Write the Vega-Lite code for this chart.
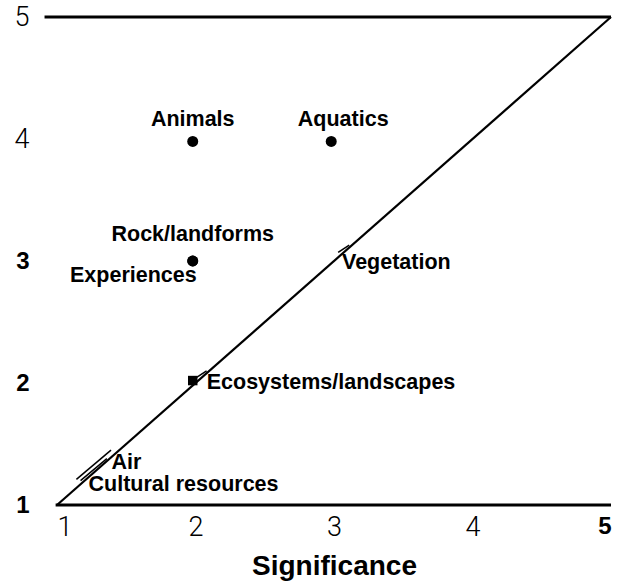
{
  "$schema": "https://vega.github.io/schema/vega-lite/v6.json",
  "autosize": {"type": "none"},
  "width": 554,
  "height": 488,
  "padding": {"left": 57, "top": 17, "right": 17, "bottom": 77},
  "background": "white",
  "config": {"view": {"stroke": null}},
  "datasets": {
    "frame": [
      {"x": 0.91, "y": 5, "x2": 5, "y2": 5},
      {"x": 0.99, "y": 1, "x2": 5, "y2": 1}
    ],
    "diag": [
      {"x": 1, "y": 1, "x2": 5, "y2": 5}
    ],
    "ticks": [
      {"x": 3.03, "y": 3.07, "x2": 3.11, "y2": 3.13},
      {"x": 2.0, "y": 2.04, "x2": 2.08, "y2": 2.1},
      {"x": 1.14, "y": 1.21, "x2": 1.39, "y2": 1.45},
      {"x": 1.17, "y": 1.2, "x2": 1.36, "y2": 1.38}
    ],
    "items": [
      {"name": "Animals", "sig": 1.98, "val": 3.98, "marker": "circle"},
      {"name": "Aquatics", "sig": 2.98, "val": 3.98, "marker": "circle"},
      {"name": "Rock/landforms", "sig": 1.98, "val": 3, "marker": "circle"},
      {"name": "Experiences", "sig": 1.98, "val": 3, "marker": "circle"},
      {"name": "Vegetation", "sig": 3, "val": 3, "marker": "none"},
      {"name": "Ecosystems/landscapes", "sig": 1.98, "val": 2.02, "marker": "square"},
      {"name": "Air", "sig": 1.3, "val": 1.3, "marker": "none"},
      {"name": "Cultural resources", "sig": 1.3, "val": 1.3, "marker": "none"}
    ]
  },
  "layer": [
    {
      "data": {"name": "frame"},
      "mark": {"type": "rule", "color": "black", "strokeWidth": 3},
      "encoding": {
        "x": {"field": "x", "type": "quantitative", "scale": {"domain": [1, 5], "nice": false, "zero": false},
          "axis": {"title": "Significance", "values": [1, 2, 3, 4, 5], "format": "d", "domain": false, "ticks": false, "grid": false,
            "labelPadding": 9, "labelColor": "black",
            "labelFont": {"condition": {"test": "datum.value == 5", "value": "Liberation Sans"}, "value": "Roboto"},
            "labelFontWeight": {"condition": {"test": "datum.value == 5", "value": "bold"}, "value": 300},
            "labelFontSize": {"condition": {"test": "datum.value == 5", "value": 24}, "value": 27},
            "titleFont": "Liberation Sans", "titleFontSize": 28, "titleFontWeight": "bold", "titleColor": "black", "titlePadding": 12}},
        "x2": {"field": "x2"},
        "y": {"field": "y", "type": "quantitative", "scale": {"domain": [1, 5], "nice": false, "zero": false},
          "axis": {"title": null, "values": [1, 2, 3, 4, 5], "format": "d", "domain": false, "ticks": false, "grid": false,
            "labelPadding": 28, "labelColor": "black",
            "labelFont": {"condition": {"test": "datum.value <= 3", "value": "Liberation Sans"}, "value": "Roboto"},
            "labelFontWeight": {"condition": {"test": "datum.value <= 3", "value": "bold"}, "value": 300},
            "labelFontSize": {"condition": {"test": "datum.value <= 3", "value": 24}, "value": 27}}},
        "y2": {"field": "y2"}
      }
    },
    {
      "data": {"name": "diag"},
      "mark": {"type": "rule", "color": "black", "strokeWidth": 2.2},
      "encoding": {
        "x": {"field": "x", "type": "quantitative"},
        "x2": {"field": "x2"},
        "y": {"field": "y", "type": "quantitative"},
        "y2": {"field": "y2"}
      }
    },
    {
      "data": {"name": "ticks"},
      "mark": {"type": "rule", "color": "black", "strokeWidth": 1.5},
      "encoding": {
        "x": {"field": "x", "type": "quantitative"},
        "x2": {"field": "x2"},
        "y": {"field": "y", "type": "quantitative"},
        "y2": {"field": "y2"}
      }
    },
    {
      "data": {"name": "items"},
      "transform": [{"filter": "datum.marker == 'circle'"}],
      "mark": {"type": "point", "shape": "circle", "filled": true, "color": "black", "size": 120, "opacity": 1},
      "encoding": {
        "x": {"field": "sig", "type": "quantitative"},
        "y": {"field": "val", "type": "quantitative"}
      }
    },
    {
      "data": {"name": "items"},
      "transform": [{"filter": "datum.marker == 'square'"}],
      "mark": {"type": "point", "shape": "square", "filled": true, "color": "black", "size": 90, "opacity": 1},
      "encoding": {
        "x": {"field": "sig", "type": "quantitative"},
        "y": {"field": "val", "type": "quantitative"}
      }
    },
    {
      "data": {"name": "items"},
      "transform": [{"filter": "datum.name == 'Animals'"}],
      "mark": {"type": "text", "font": "Liberation Sans", "fontWeight": "bold", "fontSize": 21.5, "align": "center", "baseline": "middle", "dx": 0, "dy": -21, "color": "black"},
      "encoding": {
        "x": {"field": "sig", "type": "quantitative"},
        "y": {"field": "val", "type": "quantitative"},
        "text": {"field": "name"}
      }
    },
    {
      "data": {"name": "items"},
      "transform": [{"filter": "datum.name == 'Aquatics'"}],
      "mark": {"type": "text", "font": "Liberation Sans", "fontWeight": "bold", "fontSize": 21.5, "align": "center", "baseline": "middle", "dx": 12, "dy": -21, "color": "black"},
      "encoding": {
        "x": {"field": "sig", "type": "quantitative"},
        "y": {"field": "val", "type": "quantitative"},
        "text": {"field": "name"}
      }
    },
    {
      "data": {"name": "items"},
      "transform": [{"filter": "datum.name == 'Rock/landforms'"}],
      "mark": {"type": "text", "font": "Liberation Sans", "fontWeight": "bold", "fontSize": 21.5, "align": "center", "baseline": "middle", "dx": 0, "dy": -26, "color": "black"},
      "encoding": {
        "x": {"field": "sig", "type": "quantitative"},
        "y": {"field": "val", "type": "quantitative"},
        "text": {"field": "name"}
      }
    },
    {
      "data": {"name": "items"},
      "transform": [{"filter": "datum.name == 'Experiences'"}],
      "mark": {"type": "text", "font": "Liberation Sans", "fontWeight": "bold", "fontSize": 21.5, "align": "right", "baseline": "middle", "dx": 4, "dy": 15, "color": "black"},
      "encoding": {
        "x": {"field": "sig", "type": "quantitative"},
        "y": {"field": "val", "type": "quantitative"},
        "text": {"field": "name"}
      }
    },
    {
      "data": {"name": "items"},
      "transform": [{"filter": "datum.name == 'Vegetation'"}],
      "mark": {"type": "text", "font": "Liberation Sans", "fontWeight": "bold", "fontSize": 21.5, "align": "left", "baseline": "middle", "dx": 8, "dy": 2, "color": "black"},
      "encoding": {
        "x": {"field": "sig", "type": "quantitative"},
        "y": {"field": "val", "type": "quantitative"},
        "text": {"field": "name"}
      }
    },
    {
      "data": {"name": "items"},
      "transform": [{"filter": "datum.name == 'Ecosystems/landscapes'"}],
      "mark": {"type": "text", "font": "Liberation Sans", "fontWeight": "bold", "fontSize": 21.5, "align": "left", "baseline": "middle", "dx": 14, "dy": 2, "color": "black"},
      "encoding": {
        "x": {"field": "sig", "type": "quantitative"},
        "y": {"field": "val", "type": "quantitative"},
        "text": {"field": "name"}
      }
    },
    {
      "data": {"name": "items"},
      "transform": [{"filter": "datum.name == 'Air'"}],
      "mark": {"type": "text", "font": "Liberation Sans", "fontWeight": "bold", "fontSize": 21.5, "align": "left", "baseline": "middle", "dx": 13, "dy": -5, "color": "black"},
      "encoding": {
        "x": {"field": "sig", "type": "quantitative"},
        "y": {"field": "val", "type": "quantitative"},
        "text": {"field": "name"}
      }
    },
    {
      "data": {"name": "items"},
      "transform": [{"filter": "datum.name == 'Cultural resources'"}],
      "mark": {"type": "text", "font": "Liberation Sans", "fontWeight": "bold", "fontSize": 21.5, "align": "left", "baseline": "middle", "dx": -10, "dy": 17, "color": "black"},
      "encoding": {
        "x": {"field": "sig", "type": "quantitative"},
        "y": {"field": "val", "type": "quantitative"},
        "text": {"field": "name"}
      }
    }
  ]
}
